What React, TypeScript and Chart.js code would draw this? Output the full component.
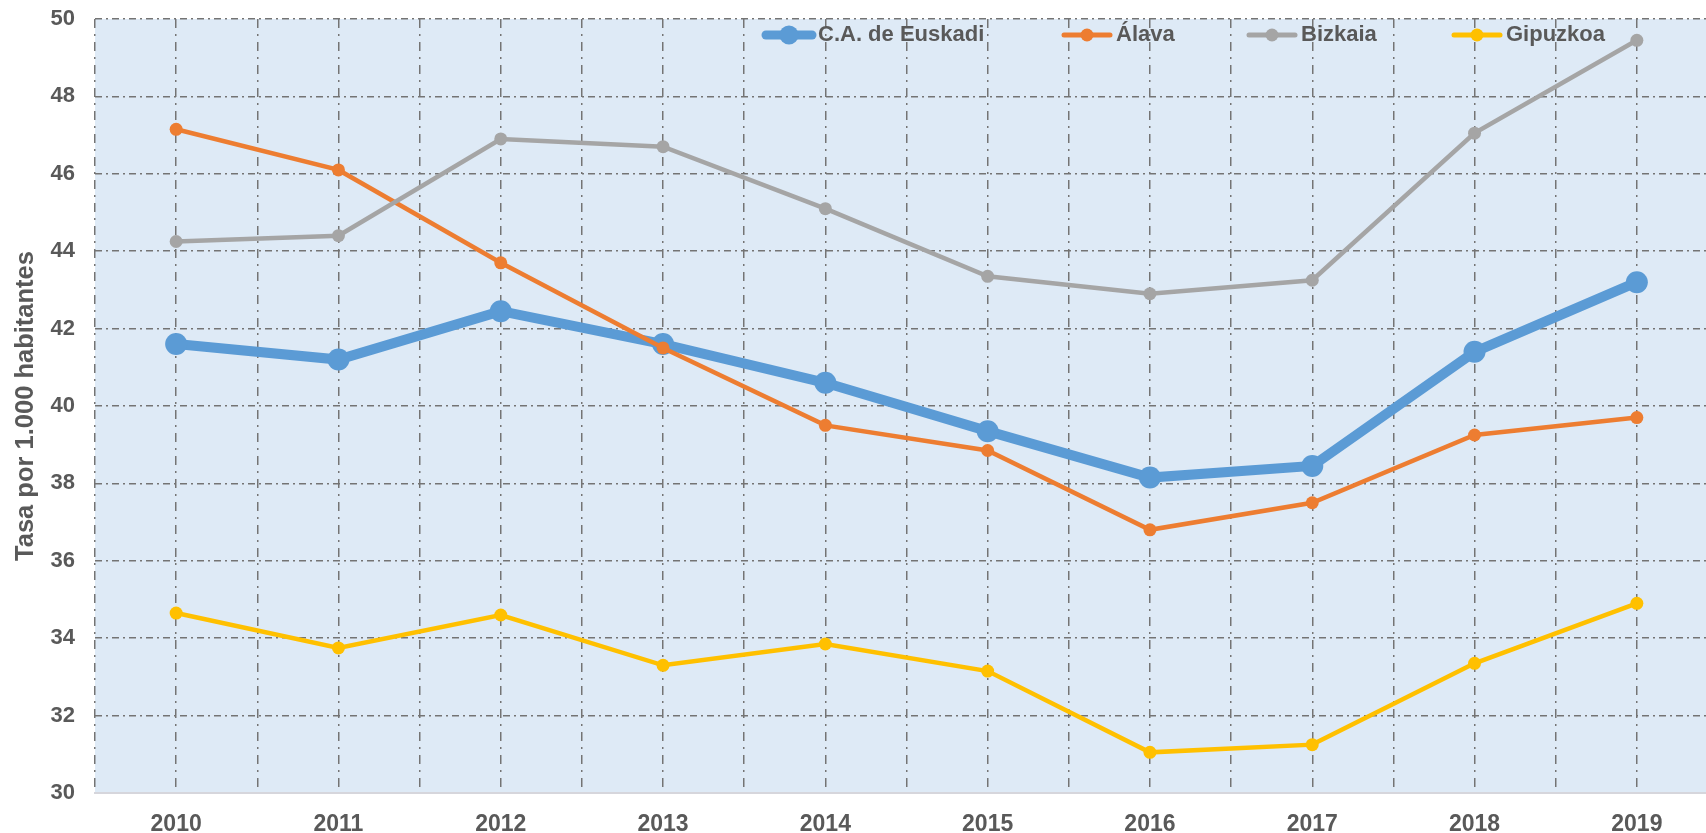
import { useEffect, useRef } from 'react';
import { Chart, registerables } from 'chart.js';

Chart.register(...registerables);

const years = ['2010', '2011', '2012', '2013', '2014', '2015', '2016', '2017', '2018', '2019'];
const euskadi = [41.6, 41.2, 42.45, 41.6, 40.6, 39.35, 38.15, 38.45, 41.4, 43.2];
const alava = [47.15, 46.1, 43.7, 41.5, 39.5, 38.85, 36.8, 37.5, 39.25, 39.7];
const bizkaia = [44.25, 44.4, 46.9, 46.7, 45.1, 43.35, 42.9, 43.25, 47.05, 49.45];
const gipuzkoa = [34.65, 33.75, 34.6, 33.3, 33.85, 33.15, 31.05, 31.25, 33.35, 34.9];
const seriesNames = ['C.A. de Euskadi', 'Álava', 'Bizkaia', 'Gipuzkoa'];
const seriesColors = ['#5B9BD5', '#ED7D31', '#A5A5A5', '#FFC000'];
const yMin = 30;
const yMax = 50;
const yStep = 2;
const yTitle = 'Tasa por 1.000 habitantes';

const FONT = '"Liberation Sans", Arial, sans-serif';
const TEXT = '#595959';

const legendOffsets = [667, 965, 1150, 1355];

const bgPlugin = {
  id: 'plotBg',
  beforeDraw(chart: any) {
    const { ctx, chartArea } = chart;
    ctx.save();
    ctx.fillStyle = '#DEEAF6';
    ctx.fillRect(chartArea.left, chartArea.top, chartArea.right - chartArea.left, chartArea.bottom - chartArea.top);
    ctx.restore();
  },
};

const legendPlugin = {
  id: 'customLegend',
  afterDatasetsDraw(chart: any) {
    const { ctx, chartArea } = chart;
    const y = chartArea.top + 16;
    chart.data.datasets.forEach((ds: any, i: number) => {
      const x0 = chartArea.left + legendOffsets[i];
      const thick = i === 0;
      ctx.save();
      ctx.strokeStyle = ds.borderColor;
      ctx.fillStyle = ds.borderColor;
      ctx.lineWidth = thick ? 9 : 5;
      ctx.lineCap = 'round';
      ctx.beginPath();
      ctx.moveTo(x0 + 4, y);
      ctx.lineTo(x0 + 50, y);
      ctx.stroke();
      ctx.beginPath();
      ctx.arc(x0 + 27, y, thick ? 9.5 : 6.5, 0, Math.PI * 2);
      ctx.fill();
      ctx.fillStyle = TEXT;
      ctx.font = `bold 22px ${FONT}`;
      ctx.textBaseline = 'middle';
      ctx.textAlign = 'left';
      ctx.fillText(ds.label, x0 + 56, y);
      ctx.restore();
    });
  },
};

export default function App() {
  const ref = useRef<HTMLCanvasElement | null>(null);

  useEffect(() => {
    if (!ref.current) return;
    const allSeries = [euskadi, alava, bizkaia, gipuzkoa];
    const datasets = allSeries.map((vals, i) => ({
      label: seriesNames[i],
      data: vals.map((v, j) => ({ x: Number(years[j]), y: v })),
      borderColor: seriesColors[i],
      backgroundColor: seriesColors[i],
      pointBackgroundColor: seriesColors[i],
      pointBorderColor: seriesColors[i],
      borderWidth: i === 0 ? 10 : 4.5,
      pointRadius: i === 0 ? 11 : 6.5,
      pointBorderWidth: 0,
      tension: 0,
      order: 4 - i,
    }));

    const chart = new Chart(ref.current, {
      type: 'line',
      data: { datasets },
      plugins: [bgPlugin, legendPlugin],
      options: {
        animation: false,
        responsive: false,
        layout: { padding: { top: 19, right: 12, left: 0, bottom: 0 } },
        plugins: {
          legend: { display: false },
          tooltip: { enabled: false },
          title: { display: false },
        },
        scales: {
          x: {
            type: 'linear',
            min: Number(years[0]) - 0.5,
            max: Number(years[years.length - 1]) + 0.5,
            afterFit: (s: any) => { s.height = 40; s.paddingLeft = 0; s.paddingRight = 0; },
            ticks: {
              stepSize: 0.5,
              autoSkip: false,
              maxRotation: 0,
              padding: 18,
              color: TEXT,
              font: { family: FONT, size: 23, weight: 'bold' },
              callback: (v: any) => {
                const idx = years.indexOf(String(v));
                return idx >= 0 ? years[idx] : '';
              },
            },
            grid: {
              color: '#747474',
              lineWidth: 1.5,
              drawTicks: false,
            },
            border: { display: true, color: '#d6d6dc', width: 2, dash: [9, 6, 2, 6] },
          },
          y: {
            min: yMin,
            max: yMax,
            afterFit: (s: any) => { s.width = 95; s.paddingTop = 0; s.paddingBottom = 0; },
            ticks: {
              stepSize: yStep,
              padding: 20,
              color: TEXT,
              font: { family: FONT, size: 22, weight: 'bold' },
            },
            grid: {
              color: '#747474',
              lineWidth: 1.5,
              drawTicks: false,
            },
            border: { display: false, dash: [7, 4, 2, 4] },
            title: {
              display: true,
              text: yTitle,
              color: TEXT,
              font: { family: FONT, size: 25.5, weight: 'bold' },
              padding: { top: 11, bottom: 0 },
            },
          },
        },
      },
    });
    return () => chart.destroy();
  }, []);

  return (
    <div style={{ position: 'fixed', left: 0, top: 0, width: 1706, height: 833, overflow: 'hidden', background: '#fff' }}>
      <canvas ref={ref} width={1730} height={833} style={{ display: 'block' }} />
    </div>
  );
}
